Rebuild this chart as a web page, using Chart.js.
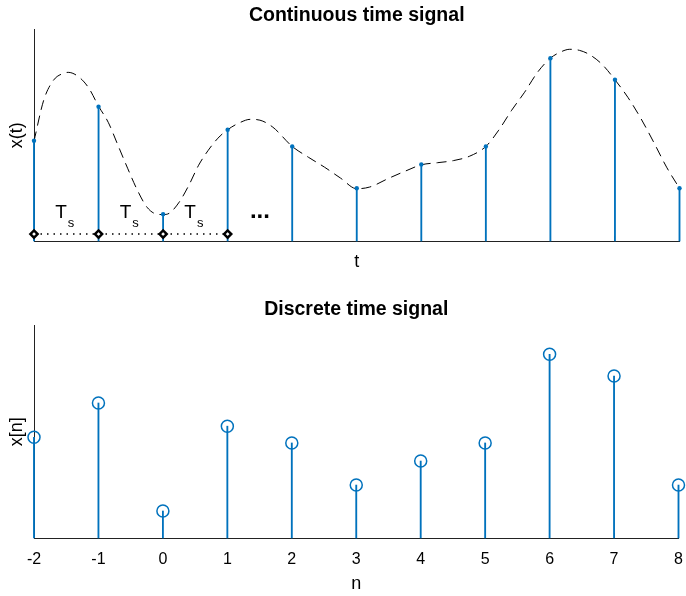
<!DOCTYPE html>
<html>
<head>
<meta charset="utf-8">
<script src="https://cdn.jsdelivr.net/npm/chart.js@4"></script>
<style>
  body { margin: 0; background: #fff; }
  canvas { position: absolute; left: 0; }
  #top { top: 0; }
  #bottom { top: 290px; }
</style>
</head>
<body>
<canvas id="top" width="686" height="290"></canvas>
<canvas id="bottom" width="686" height="306"></canvas>
<script>
// sample index and sampled values (same samples in both plots)
const n = [-2, -1, 0, 1, 2, 3, 4, 5, 6, 7, 8];
const xn = [0.474, 0.635, 0.127, 0.526, 0.447, 0.249, 0.362, 0.447, 0.864, 0.762, 0.249];

// dashed continuous curve
const curveT = [-2, -1.85, -1.7, -1.55, -1.47, -1.3, -1.15, -1, -0.85, -0.7, -0.55, -0.4, -0.25, -0.1, 0,
  0.1, 0.25, 0.4, 0.55, 0.7, 0.85, 1, 1.2, 1.35, 1.5, 1.7, 2, 2.25, 2.5, 2.75, 3, 3.2, 3.5, 3.75, 4,
  4.25, 4.5, 4.75, 5, 5.2, 5.4, 5.6, 5.8, 6, 6.15, 6.3, 6.45, 6.6, 6.8, 7, 7.2, 7.4, 7.6, 7.8, 8];
const curveX = [0.472, 0.665, 0.759, 0.792, 0.797, 0.774, 0.722, 0.637, 0.561, 0.453, 0.344, 0.241, 0.160, 0.127, 0.125,
  0.132, 0.184, 0.264, 0.358, 0.429, 0.486, 0.526, 0.561, 0.575, 0.571, 0.538, 0.447, 0.396, 0.349, 0.297, 0.247, 0.255, 0.297, 0.330, 0.360,
  0.370, 0.380, 0.401, 0.447, 0.524, 0.618, 0.703, 0.797, 0.864, 0.892, 0.906, 0.901, 0.882, 0.835, 0.762, 0.679, 0.580, 0.467, 0.349, 0.249];

// sampling period marks
const periodN = [-2, -1, 0, 1];
const periodLevel = 0.033;
const tsCenters = [-1.5, -0.5, 0.5];
const tsLevel = 0.107;
const subLevel = 0.065;
const ellipsisT = 1.5;
const ellipsisLevel = 0.108;

const blue = '#0072BD';
const axisColor = '#222';
const font = "'Liberation Sans', Arial, Helvetica, sans-serif";
Chart.defaults.font.family = font;
Chart.defaults.color = '#000';

const pts = (xs, ys) => xs.map((v, i) => ({ x: v, y: ys[i] }));

const annotate = {
  id: 'annotate',
  afterDatasetsDraw(chart) {
    const { ctx, scales: { x, y } } = chart;
    ctx.save();
    ctx.fillStyle = '#000';
    ctx.textBaseline = 'alphabetic';
    tsCenters.forEach(c => {
      const px = x.getPixelForValue(c);
      ctx.font = '19px ' + font;
      ctx.textAlign = 'right';
      ctx.fillText('T', px + 0.5, y.getPixelForValue(tsLevel));
      ctx.font = '13px ' + font;
      ctx.textAlign = 'left';
      ctx.fillText('s', px + 1.5, y.getPixelForValue(subLevel));
    });
    ctx.font = 'bold 24px ' + font;
    ctx.textAlign = 'center';
    ctx.fillText('...', x.getPixelForValue(ellipsisT), y.getPixelForValue(ellipsisLevel));
    ctx.restore();
  }
};

function xScale(showTicks, label, labelPad, height) {
  return {
    type: 'linear', min: -2, max: 8, offset: false,
    ticks: { display: showTicks, stepSize: 1, font: { size: 16 }, color: '#000', padding: 17 },
    grid: { offset: false, drawOnChartArea: false, drawTicks: true, tickLength: -5, color: axisColor },
    border: { color: axisColor, width: 1 },
    title: { display: true, text: label, font: { size: 18 }, padding: { top: 0, bottom: labelPad } },
    afterFit: s => { s.height = height; s.paddingLeft = 0; s.paddingRight = 0; }
  };
}

function yScale(label) {
  return {
    min: 0, max: 1,
    ticks: { display: false },
    grid: { display: false },
    border: { color: axisColor, width: 1 },
    title: { display: true, text: label, font: { size: 18 }, padding: { top: 6, bottom: 0 } },
    afterFit: s => { s.width = 34; }
  };
}

function baseOptions(title, yLabel, padTop, padBottom, xs) {
  return {
    responsive: false,
    animation: false,
    events: [],
    layout: { padding: { right: 6 } },
    plugins: {
      legend: { display: false },
      tooltip: { enabled: false },
      title: {
        display: true, text: title, fullSize: false, color: '#000',
        font: { size: 19.5, weight: 'bold' }, padding: { top: padTop, bottom: padBottom }
      }
    },
    scales: { x: xs, y: yScale(yLabel) }
  };
}

new Chart(document.getElementById('top'), {
  type: 'line',
  data: {
    datasets: [
      { data: pts(n, xn), showLine: false, pointRadius: 2.2, pointBorderWidth: 0, pointBackgroundColor: blue, clip: false },
      { data: periodN.map(v => ({ x: v, y: periodLevel })), borderColor: '#000', borderWidth: 1.5,
        borderDash: [1.5, 5], pointStyle: 'rectRot', pointRadius: 3.6, pointBorderWidth: 2.5,
        pointBorderColor: '#000', pointBackgroundColor: '#fff', clip: false },
      { type: 'bar', data: pts(n, xn), backgroundColor: blue, barThickness: 1.2, grouped: false, clip: false },
      { data: pts(curveT, curveX), borderColor: '#000', borderWidth: 1, borderDash: [10, 6],
        pointRadius: 0, cubicInterpolationMode: 'monotone', clip: false }
    ]
  },
  options: baseOptions('Continuous time signal', 'x(t)', 4.4, 1.6, xScale(false, 't', 17, 49)),
  plugins: [annotate]
});

new Chart(document.getElementById('bottom'), {
  type: 'line',
  data: {
    datasets: [
      { data: pts(n, xn), showLine: false, pointRadius: 6, pointBorderWidth: 1.5,
        pointBorderColor: blue, pointBackgroundColor: 'rgba(0,0,0,0)', clip: false },
      { type: 'bar', data: pts(n, xn), backgroundColor: blue, barThickness: 1.2, grouped: false, clip: false }
    ]
  },
  options: baseOptions('Discrete time signal', 'x[n]', 8.4, 3.6, xScale(true, 'n', 1.5, 58))
});
</script>
</body>
</html>
